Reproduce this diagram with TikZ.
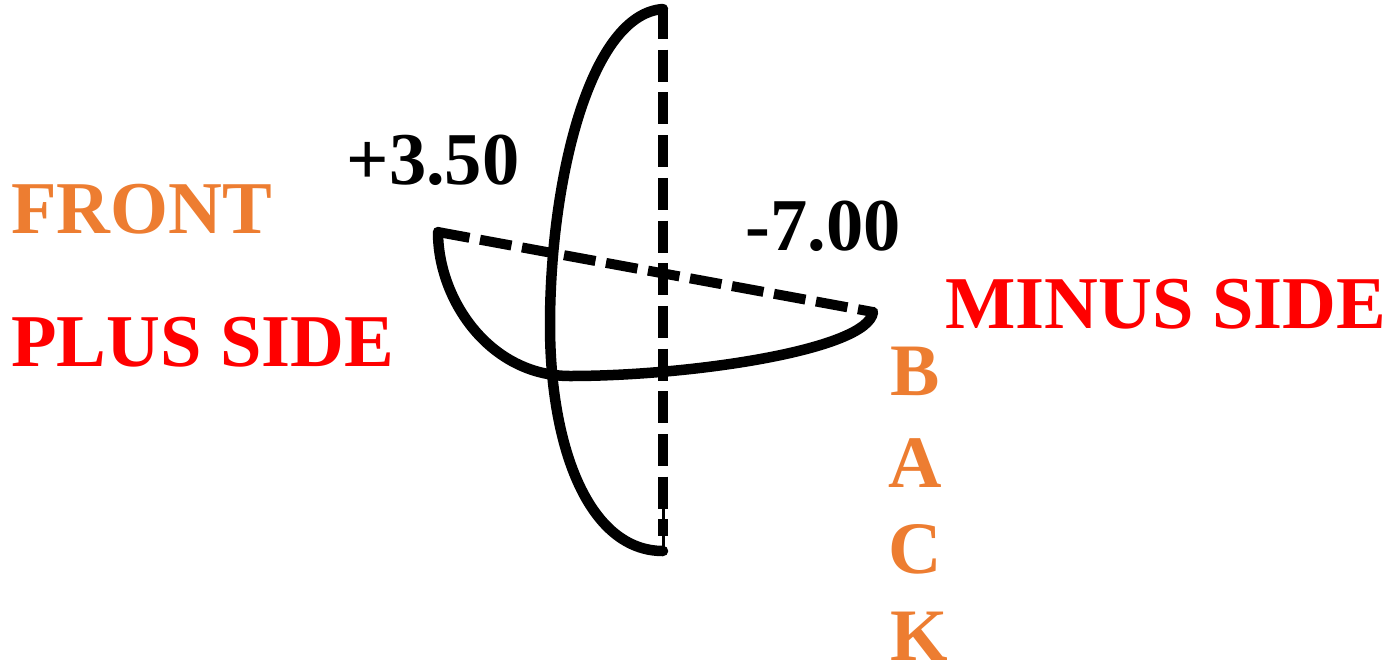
\documentclass[tikz,border=0pt]{standalone}
\usepackage{fontspec}
\setmainfont{Liberation Serif}
\usepackage{xcolor}
\usetikzlibrary{positioning}
\definecolor{LensOrange}{HTML}{ED7D31}
\definecolor{LensRed}{HTML}{FF0000}
\tikzset{
  meridian/.style={black,line width=10.5pt,line cap=round,line join=round},
  axisline/.style={black,line width=10pt,dash pattern=on 32pt off 10.7pt},
  power/.style={black,font=\bfseries\fontsize{74.5}{74.5}\selectfont,inner sep=0pt},
  sidelabel/.style={LensRed,font=\bfseries\fontsize{74.5}{74.5}\selectfont,inner sep=0pt,anchor=west},
  facelabel/.style={LensOrange,font=\bfseries\fontsize{74}{74}\selectfont,inner sep=0pt},
}
\begin{document}
\begin{tikzpicture}[x=1pt,y=-1pt]
  \useasboundingbox (0,0) rectangle (1384,665);
  \coordinate (top) at (663,9);
  \coordinate (axisend) at (663,536);
  \coordinate (bottom) at (663,551);
  \coordinate (thinstart) at (663,505);
  \coordinate (left) at (438,232);
  \coordinate (right) at (873,312);
  \draw[axisline,dash phase=2pt] (top) -- (axisend);
  \draw[black,line width=3pt] (thinstart) -- (bottom);
  \draw[axisline] (left) -- (right);
  \draw[meridian] (top) .. controls (590,14) and (550,180) .. (550,325)
    .. controls (550,450) and (590,551) .. (bottom);
  \draw[meridian] (left) .. controls (438,300) and (490,376) .. (570,376)
    .. controls (690,376) and (868,350) .. (right);
  \node[power] (plus) at (433,160) {+3.50};
  \node[power] (minus) at (823,226) {-7.00};
  \node[facelabel,anchor=west,font=\bfseries\fontsize{74.5}{74.5}\selectfont] (front) at (11,209) {FRONT};
  \node[sidelabel] (plusside) at (11,342) {PLUS SIDE};
  \node[sidelabel] (minusside) at (945,304) {MINUS SIDE};
  \node[facelabel] (b) at (915,371) {B};
  \node[facelabel] (a) at (915,463) {A};
  \node[facelabel] (c) at (915,549) {C};
  \node[facelabel] (k) at (919,636) {K};
\end{tikzpicture}
\end{document}
